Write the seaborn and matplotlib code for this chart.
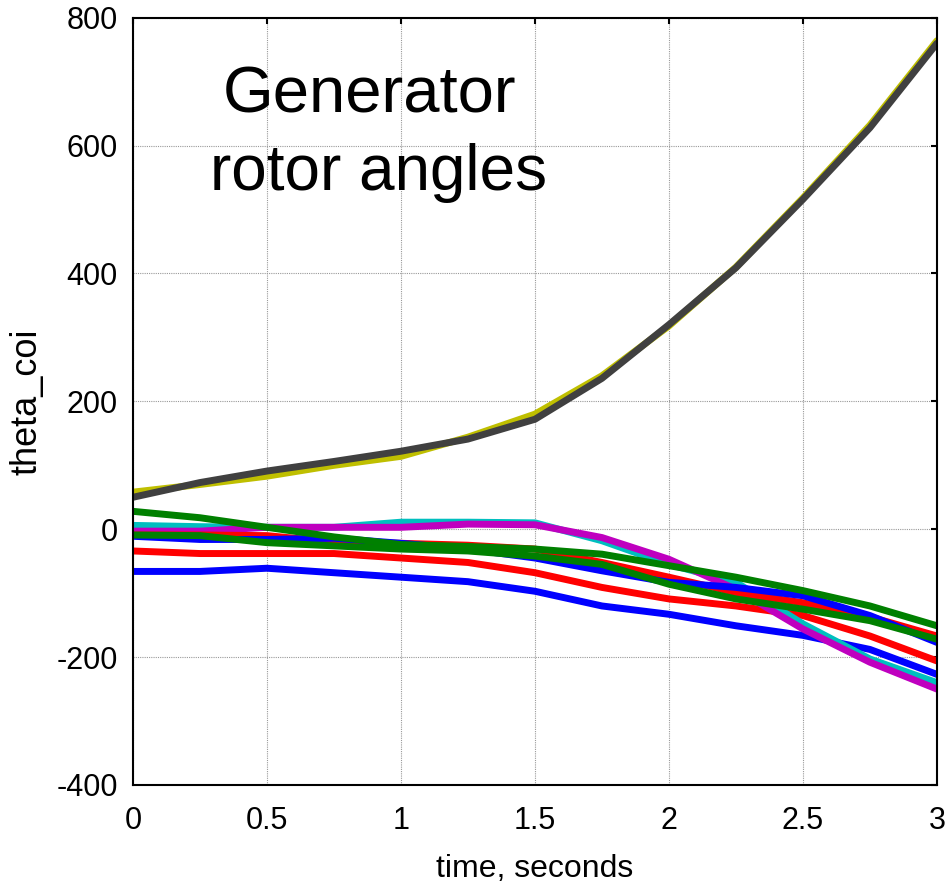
import numpy as np
import pandas as pd
import matplotlib
matplotlib.use('Agg')
import matplotlib.pyplot as plt
import seaborn as sns

# time axis, seconds
time = [0, 0.25, 0.5, 0.75, 1.0, 1.25, 1.5, 1.75, 2.0, 2.25, 2.5, 2.75, 3.0]

# rotor angles (deg)
blue2 = [-66, -66, -61, -68, -75, -82, -97, -120, -133, -151, -166, -188, -227]
red2 = [-34, -38, -38, -38, -45, -52, -68, -91, -109, -120, -135, -167, -206]
cyan = [6, 4, 3, 3, 11, 11, 10, -18, -55, -83, -148, -203, -240]
magenta = [-3, -3, 3, 3, 3, 8, 7, -13, -47, -94, -156, -208, -250]
red1 = [-9, -9, -10, -20, -22, -25, -31, -52, -75, -99, -115, -137, -167]
blue1 = [-11, -16, -16, -14, -22, -31, -45, -65, -83, -91, -104, -135, -177]
green2 = [-9, -10, -21, -26, -31, -34, -42, -55, -86, -109, -125, -143, -172]
green1 = [28, 18, 3, -12, -24, -27, -31, -39, -57, -75, -96, -120, -151]
yellow = [58, 70, 83, 100, 114, 144, 180, 240, 318, 410, 518, 632, 764]
dark = [50, 73, 91, 106, 122, 141, 172, 236, 320, 409, 516, 628, 760]

series = {'blue2': blue2, 'red2': red2, 'cyan': cyan, 'magenta': magenta,
          'red1': red1, 'blue1': blue1, 'green2': green2, 'green1': green1,
          'yellow': yellow, 'dark': dark}

# matlab-like line colours
colors = {'blue2': (0, 0, 1), 'red2': (1, 0, 0), 'cyan': (0, 0.75, 0.75),
          'magenta': (0.75, 0, 0.75), 'red1': (1, 0, 0), 'blue1': (0, 0, 1),
          'green2': (0, 0.5, 0), 'green1': (0, 0.5, 0),
          'yellow': (0.75, 0.75, 0), 'dark': (0.25, 0.25, 0.25)}

rows = []
for name, vals in series.items():
    for t, v in zip(time, vals):
        rows.append({'time': t, 'theta': v, 'gen': name})
df = pd.DataFrame(rows)

sns.set_style('white')
plt.rcParams['font.family'] = ['Liberation Sans', 'DejaVu Sans']
plt.rcParams['axes.unicode_minus'] = False
plt.rcParams['text.color'] = 'black'
plt.rcParams['axes.labelcolor'] = 'black'

fig = plt.figure(figsize=(9.47, 8.86), dpi=100)
ax = fig.add_axes([0.1404, 0.114, 0.849, 0.866])

sns.lineplot(data=df, x='time', y='theta', hue='gen', hue_order=list(series.keys()),
             palette=colors, estimator=None, sort=False, legend=False,
             linewidth=5, ax=ax)

ax.set_xlim(0, 3)
ax.set_ylim(-400, 800)
ax.set_xticks([0, 0.5, 1, 1.5, 2, 2.5, 3])
ax.set_xticklabels(['0', '0.5', '1', '1.5', '2', '2.5', '3'])
ax.set_yticks([-400, -200, 0, 200, 400, 600, 800])
ax.grid(True, color='0.6', linestyle=(0, (1, 1)), linewidth=0.8)
ax.set_axisbelow(True)

# ticks inside, on all four sides
ax.tick_params(direction='in', length=4, width=1.5, top=True, right=True,
               labelsize=22, colors='black')
ax.tick_params(axis='x', pad=15)
ax.tick_params(axis='y', pad=11)
for s in ax.spines.values():
    s.set_visible(True)
    s.set_color('black')
    s.set_linewidth(1.5)

ax.set_xlabel('time, seconds', fontsize=23)
ax.xaxis.set_label_coords(0.5, -0.09)
ax.set_ylabel('theta_coi', fontsize=26)
ax.yaxis.set_label_coords(-0.11, 0.5)

ax.text(0.884, 652, 'Generator', fontsize=47, ha='center', va='baseline', color='black')
ax.text(0.915, 531, 'rotor angles', fontsize=46, ha='center', va='baseline', color='black')

fig.savefig('out.png', dpi=100)
